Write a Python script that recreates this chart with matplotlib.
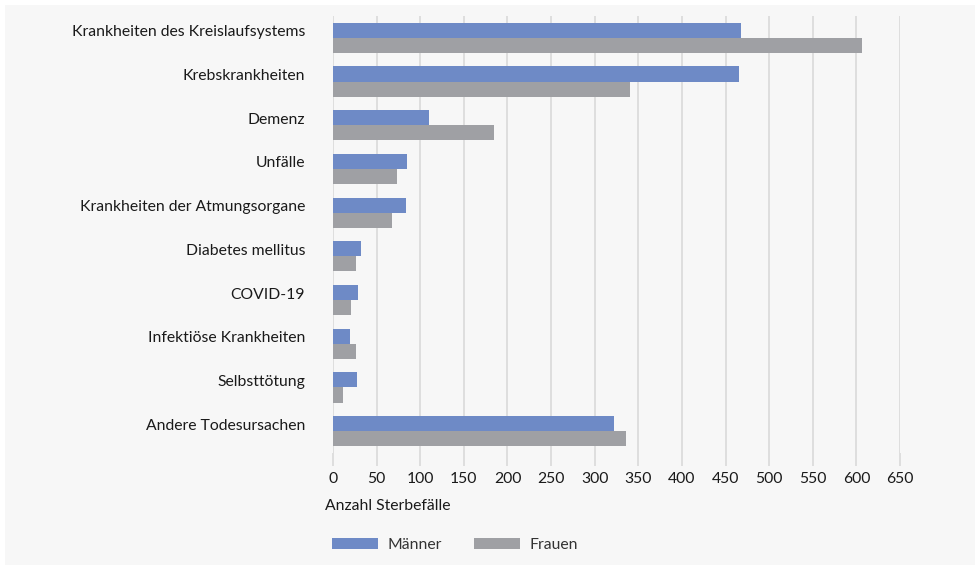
import numpy as np
import matplotlib.pyplot as plt
from matplotlib.patches import Rectangle, Patch

plt.rcParams['font.family'] = ['Lato', 'DejaVu Sans']

# Data
causes = ['Krankheiten des Kreislaufsystems', 'Krebskrankheiten', 'Demenz', 'Unfälle',
          'Krankheiten der Atmungsorgane', 'Diabetes mellitus', 'COVID-19',
          'Infektiöse Krankheiten', 'Selbsttötung', 'Andere Todesursachen']
maenner = [468, 465, 110, 85, 84, 32, 29, 19, 27, 322]
frauen = [607, 340, 184, 73, 68, 26, 21, 26, 12, 336]
xticks = list(range(0, 651, 50))

blue = '#6e8ac6'
grey = '#9fa0a4'
txt = '#1a1a1a'

fig = plt.figure(figsize=(9.8, 5.7), dpi=100)
fig.patch.set_facecolor('white')
# light grey panel behind everything
fig.patches.append(Rectangle((5 / 980, 5 / 570), 970 / 980, 560 / 570,
                             transform=fig.transFigure, facecolor='#f7f7f7',
                             edgecolor='none', zorder=-10))

ax = fig.add_axes([333 / 980, 1 - 453 / 570, (900 - 333) / 980, (453 - 16) / 570])
ax.set_facecolor('none')

y = np.arange(len(causes))
h = 0.345
ax.barh(y - h / 2, maenner, height=h, color=blue, zorder=3, label='Männer')
ax.barh(y + h / 2, frauen, height=h, color=grey, zorder=3, label='Frauen')

ax.set_xlim(0, 650)
ax.set_ylim(len(causes) - 0.5, -0.5)
ax.set_xticks(xticks)
ax.set_xticklabels([str(t) for t in xticks], fontsize=11.3, color=txt)
ax.set_yticks(y - 0.16)
ax.set_yticklabels(causes, fontsize=11.3, color=txt)

ax.grid(axis='x', color='#dcdcdc', linewidth=1.3, zorder=0)
ax.tick_params(axis='x', length=9, width=1.3, color='#dcdcdc', pad=5)
ax.tick_params(axis='y', length=0, pad=20)
for s in ax.spines.values():
    s.set_visible(False)

fig.text(325 / 980, 1 - 506 / 570, 'Anzahl Sterbefälle', fontsize=11.3, color=txt,
         ha='left', va='center')

handles = [Patch(facecolor=blue, label='Männer'), Patch(facecolor=grey, label='Frauen')]
fig.legend(handles=handles, loc='center left', bbox_to_anchor=(318 / 980, 1 - 545 / 570),
           ncol=2, frameon=False, fontsize=11.3, handlelength=2.9, handleheight=0.75,
           columnspacing=2.1, handletextpad=0.6, labelcolor='#333333')

fig.savefig('out.png', dpi=100)
